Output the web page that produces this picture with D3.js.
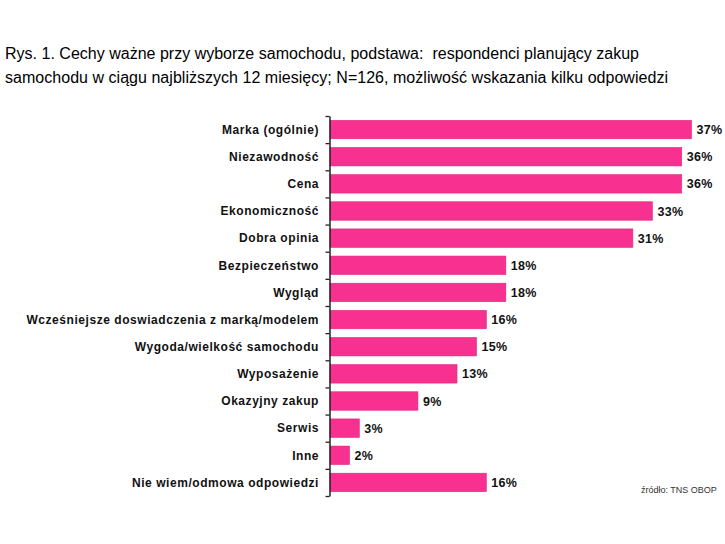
<!DOCTYPE html>
<html>
<head>
<meta charset="utf-8">
<script src="https://cdn.jsdelivr.net/npm/d3@7"></script>
<style>
  body { margin: 0; background: #fff; }
  svg { display: block; font-family: "Liberation Sans", Arial, sans-serif; }
</style>
</head>
<body>
<div id="chart"></div>
<script>
var titleLines = [
  "Rys. 1. Cechy ważne przy wyborze samochodu, podstawa:  respondenci planujący zakup",
  "samochodu w ciągu najbliższych 12 miesięcy; N=126, możliwość wskazania kilku odpowiedzi"
];
var titleWidths = [634, 663];
var categories = [
  "Marka (ogólnie)", "Niezawodność", "Cena", "Ekonomiczność", "Dobra opinia",
  "Bezpieczeństwo", "Wygląd", "Wcześniejsze doswiadczenia z marką/modelem",
  "Wygoda/wielkość samochodu", "Wyposażenie", "Okazyjny zakup", "Serwis",
  "Inne", "Nie wiem/odmowa odpowiedzi"
];
var values = [37, 36, 36, 33, 31, 18, 18, 16, 15, 13, 9, 3, 2, 16];
var source = "źródło: TNS OBOP";

var width = 725, height = 544;
var svg = d3.select("#chart").append("svg")
    .attr("width", width)
    .attr("height", height);

// title
svg.selectAll("text.title")
    .data(titleLines)
    .enter().append("text")
    .attr("class", "title")
    .attr("x", 5)
    .attr("y", function(d, i) { return 59 + i * 24; })
    .attr("textLength", function(d, i) { return titleWidths[i]; })
    .attr("lengthAdjust", "spacing")
    .style("font-size", "16px")
    .style("white-space", "pre")
    .attr("fill", "#000")
    .text(function(d) { return d; });

var x = d3.scaleLinear().domain([0, 40]).range([330, 330 + 9.77 * 40]);
var y = d3.scaleBand().domain(categories).range([116, 496])
    .paddingInner(0.32).paddingOuter(0.16);

// bars
svg.selectAll("rect.bar")
    .data(values)
    .enter().append("rect")
    .attr("class", "bar")
    .attr("x", x(0))
    .attr("y", function(d, i) { return y(categories[i]); })
    .attr("width", function(d) { return x(d) - x(0); })
    .attr("height", y.bandwidth())
    .attr("fill", "#F8308F")
    .attr("stroke", "#DC2A80")
    .attr("stroke-width", 0.6);

// value labels
svg.selectAll("text.val")
    .data(values)
    .enter().append("text")
    .attr("class", "val")
    .attr("x", function(d) { return x(d) + 5; })
    .attr("y", function(d, i) { return y(categories[i]) + y.bandwidth() / 2; })
    .attr("dy", "0.36em")
    .style("font-size", "12.5px")
    .style("font-weight", "bold")
    .style("letter-spacing", "0.3px")
    .attr("fill", "#111")
    .text(function(d) { return d + "%"; });

// axis with ticks on band boundaries
var yb = d3.scaleLinear().domain([0, categories.length]).range([116, 496]);
var axis = svg.append("g")
    .attr("transform", "translate(" + (x(0) - 0.5) + ",0)")
    .call(d3.axisLeft(yb)
        .tickValues(d3.range(categories.length + 1))
        .tickFormat("")
        .tickSizeInner(4)
        .tickSizeOuter(0));
axis.select(".domain").attr("stroke", "#222").attr("stroke-width", 1.5);
axis.selectAll(".tick line").attr("stroke", "#222").attr("stroke-width", 1.3);

// category labels
svg.selectAll("text.cat")
    .data(categories)
    .enter().append("text")
    .attr("class", "cat")
    .attr("x", 319)
    .attr("y", function(d) { return y(d) + y.bandwidth() / 2; })
    .attr("dy", "0.36em")
    .attr("text-anchor", "end")
    .style("font-size", "12px")
    .style("font-weight", "bold")
    .style("letter-spacing", "0.55px")
    .attr("fill", "#111")
    .text(function(d) { return d; });

// source note
svg.append("text")
    .attr("x", 641)
    .attr("y", 493)
    .style("font-size", "9px")
    .attr("fill", "#333")
    .text(source);
</script>
</body>
</html>
